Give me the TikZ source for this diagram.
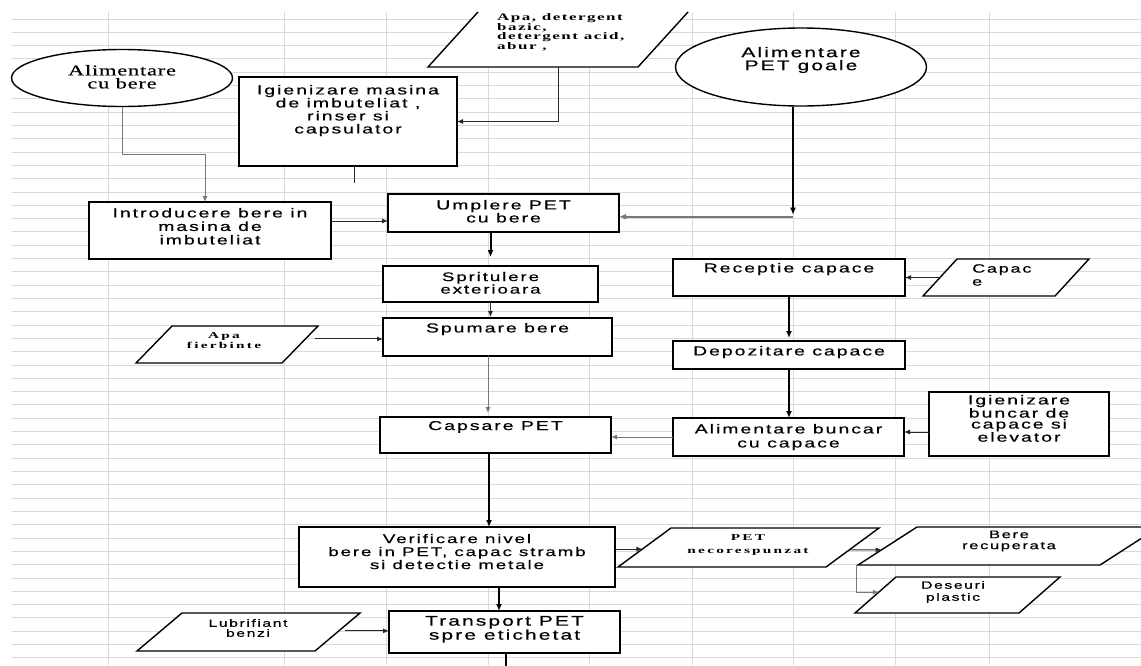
\documentclass[tikz,border=0pt]{standalone}
\usepackage{fontspec}
\setmainfont{Liberation Sans}[FakeStretch=1.5,LetterSpace=15,FakeBold=0.5]
\newfontfamily\serA{Liberation Serif}[FakeStretch=1.5,LetterSpace=5,FakeBold=0.3]
\newfontfamily\serS{Liberation Serif}[FakeStretch=1.7,LetterSpace=15]
\newfontfamily\serT{Liberation Serif}[FakeStretch=1.7,LetterSpace=25]
\usetikzlibrary{arrows.meta,calc,shapes.geometric}
\definecolor{gridc}{RGB}{217,217,217}
\definecolor{lnk}{RGB}{40,40,40}
\definecolor{lgray}{RGB}{120,120,120}
\newcommand\bt[4]{\parbox[c][#2pt][t]{#1pt}{\centering\vspace*{#3pt}#4\par}}
\newcommand\fs[2]{\fontsize{#1}{#2}\selectfont}
\newcommand\paral[6]{%
 \coordinate (#1-BL) at (#2,#3);
 \coordinate (#1-BR) at ({#2+#4},#3);
 \coordinate (#1-TL) at ({#2+#6},{#3-#5});
 \coordinate (#1-TR) at ({#2+#4+#6},{#3-#5});
 \draw[parash] (#1-BL) -- (#1-BR) -- (#1-TR) -- (#1-TL) -- cycle;}
\begin{document}
\begin{tikzpicture}[x=1pt,y=-1pt,
  box/.style={draw,line width=1.8pt,fill=white,inner sep=0pt,outer sep=0pt},
  ell/.style={ellipse,draw,line width=1.4pt,fill=white,inner sep=0pt},
  parash/.style={draw,line width=1.4pt,fill=white,line join=miter},
  txt/.style={inner sep=0pt,align=center},
  lnthin/.style={draw=lnk,line width=1pt,-{Latex[length=6pt,width=5pt]}},
  lngray/.style={draw=lgray,line width=1pt,-{Latex[length=6pt,width=5pt]}},
  lngraythick/.style={draw=lgray,line width=2pt,-{Latex[length=7pt,width=6pt]}},
  lnthick/.style={draw=black,line width=2pt,-{Latex[length=7pt,width=6pt]}},
  every node/.style={font=\fs{13}{13}}]
\fill[white] (0,0) rectangle (1141,665);
\useasboundingbox (0,0) rectangle (1141,665);
% spreadsheet grid
\foreach \k in {0,...,48} \draw[gridc,line width=1pt] (12,{19+13.31*\k}) -- (1141,{19+13.31*\k});
\foreach \x in {108,284,386,488,589,692,793,895,989} \draw[gridc,line width=1pt] (\x,12) -- (\x,665);

% ellipses
\node[ell,minimum width=221pt,minimum height=57pt] (aliB) at (122,78) {\bt{140}{36}{5}{\serA\fs{15}{13}Alimentare\\cu bere}};
\node[ell,minimum width=251pt,minimum height=78pt] (aliPET) at (801,67) {\bt{130}{40}{0}{\fs{14}{13}Alimentare\\PET goale}};

% boxes
\node[box,anchor=north west] (igM) at (239,77) {\bt{218}{89}{8}{Igienizare masina\\de imbuteliat ,\\rinser si\\capsulator}};
\node[box,anchor=north west] (intro) at (89,202) {\bt{242}{57}{6}{\fs{13}{13.5}Introducere bere in\\masina de\\imbuteliat}};
\node[box,anchor=north west] (umpl) at (388,194) {\bt{231}{38}{6}{Umplere PET\\cu bere}};
\node[box,anchor=north west] (sprit) at (383,266) {\bt{215}{36}{6}{\fs{12.5}{12.5}Spritulere\\exterioara}};
\node[box,anchor=north west] (spum) at (383,318) {\bt{229}{38}{5}{Spumare bere}};
\node[box,anchor=north west] (caps) at (380,417) {\bt{231}{36}{4}{Capsare PET}};
\node[box,anchor=north west] (verif) at (299,527) {\bt{316}{60}{7}{\fs{12.5}{13}Verificare nivel\\bere in PET, capac stramb\\si detectie metale}};
\node[box,anchor=north west] (trans) at (389,611) {\bt{231}{42}{5}{\fs{14}{14}Transport PET\\spre etichetat}};
\node[box,anchor=north west] (recep) at (673,259) {\bt{232}{37}{4}{Receptie capace}};
\node[box,anchor=north west] (depoz) at (673,341) {\bt{232}{28}{5}{Depozitare capace}};
\node[box,anchor=north west] (alimB) at (673,418) {\bt{231}{38}{6}{\fs{13}{14}Alimentare buncar\\cu capace}};
\node[box,anchor=north west] (igB) at (929,392) {\bt{180}{64}{3}{\fs{13}{11}Igienizare\\buncar de\\capace si\\elevator}};

% parallelograms
\coordinate (ad-BL) at (428,67); \coordinate (ad-BR) at (638,67);
\coordinate (ad-TL) at (478,12); \coordinate (ad-TR) at (688,12);
\fill[white] (ad-BL) -- (ad-BR) -- (ad-TR) -- (ad-TL) -- cycle;
\draw[line width=1.4pt] (ad-TL) -- (ad-BL) -- (ad-BR) -- (ad-TR);
\node[txt,align=left,anchor=north west,font=\serS\bfseries\fs{10}{8}] (adT) at (497,13) {Apa, detergent\\bazic,\\detergent acid,\\abur ,};

\paral{apaF}{136}{363}{146}{37}{36}
\node[txt,font=\serT\bfseries\fs{9}{10}] (apaFt) at (224,341) {Apa\\fierbinte};
\paral{cap}{923}{296}{132}{37}{34}
\node[txt,align=left,anchor=north west,font=\fs{12}{13}] (capT) at (972,264) {Capac\\e};
\paral{pet}{618}{567}{208}{39}{53}
\node[txt,font=\serT\bfseries\fs{9}{13}] (petT) at (748,545) {PET\\necorespunzat};
\paral{bere}{858}{565}{242}{38}{59}
\node[txt,font=\fs{11}{11}] (bereT) at (1009,541) {Bere\\recuperata};
\paral{des}{855}{613}{164}{36}{41}
\node[txt,font=\fs{10.5}{12}] (desT) at (953,592) {Deseuri\\plastic};
\paral{lubr}{137}{651}{178}{38}{45}
\node[txt,font=\fs{10.5}{10}] (lubrT) at (248,628) {Lubrifiant\\benzi};

% connectors
\draw[lngray] (aliB.south) -- ++(0,47.5) -| ($(intro.north)+(-5,0)$);
\draw[draw=lnk,line width=1pt] ($(igM.south)+(6,0)$) -- ++(0,17);
\coordinate (adOut) at ($(ad-BL)!0.62!(ad-BR)$);
\draw[lnthin] (adOut) |- (igM.east);
\coordinate (petDown) at ($(aliPET.south)+(-8,108)$);
\draw[lnthick] ($(aliPET.south)+(-8,0)$) -- (petDown);
\coordinate (petH) at ($(petDown)+(0,2)$);
\draw[lngraythick] (petH) -- (petH -| umpl.east);
\coordinate (inA) at ($(intro.east)+(0,-9.5)$);
\draw[lnthin] (inA) -- (inA -| umpl.west);
\draw[lnthick,shorten >=9pt] (umpl.south -| sprit.north) -- (sprit.north);
\draw[lnthin,shorten >=1pt] (sprit.south) -- (spum.north -| sprit.south);
\coordinate (spA) at ($(spum.south)+(-9.5,0)$);
\draw[lngray,shorten >=4pt] (spA) -- (spA |- caps.north);
\coordinate (afA) at ($(apaF-TR)!0.35!(apaF-BR)+(10,0)$);
\draw[lnthin] (afA) -- (afA -| spum.west);
\draw[lngray] (alimB.west) -- (alimB.west -| caps.east);
\draw[lnthick,shorten >=3pt] (recep.south) -- (depoz.north);
\draw[lnthick] (depoz.south) -- (alimB.north -| depoz.south);
\coordinate (igA) at ($(igB.west)+(0,8)$);
\draw[lnthin] (igA) -- (igA -| alimB.east);
\coordinate (capA) at ($(cap-BL)!0.5!(cap-TL)$);
\draw[lnthin] (capA) -- (capA -| recep.east);
\coordinate (csA) at ($(caps.south)+(-6.5,0)$);
\draw[lnthick] (csA) -- (csA |- verif.north);
\coordinate (vtA) at ($(verif.south)+(42,0)$);
\draw[lnthick] (vtA) -- (vtA |- trans.north);
\coordinate (tEnd) at ($(trans.south)+(1.5,14)$);
\draw[black,line width=2pt] ($(trans.south)+(1.5,0)$) -- (tEnd);
\coordinate (lbA) at ($(lubr-TR)!0.47!(lubr-BR)+(6,0)$);
\draw[lnthin] (lbA) -- (lbA -| trans.west);
\coordinate (petL) at ($(pet-BL)!0.46!(pet-TL)$);
\draw[lnthin] (petL -| verif.east) -- (petL);
\coordinate (petR) at ($(pet-BR)!0.44!(pet-TR)$);
\coordinate (bereL) at ($(bere-BL)!0.4!(bere-TL)$);
\draw[lnthin] (petR) -- (bereL);
\coordinate (desL) at ($(des-BL)!0.58!(des-TL)$);
\draw[lngray] ($(bere-BL)+(-2,0)$) |- (desL);
\end{tikzpicture}
\end{document}
